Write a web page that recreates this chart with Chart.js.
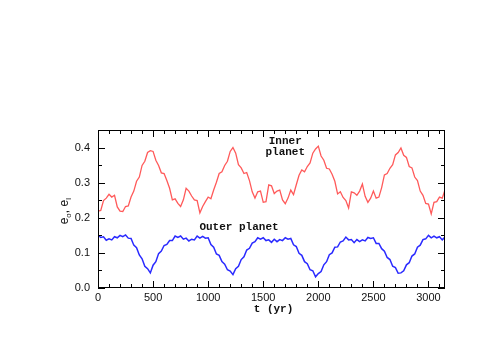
<!DOCTYPE html>
<html>
<head>
<meta charset="utf-8">
<script src="https://cdn.jsdelivr.net/npm/chart.js@4/dist/chart.umd.min.js"></script>
<style>
html,body{margin:0;padding:0;background:#fff;}
#wrap{width:491px;height:340px;position:relative;}
</style>
</head>
<body>
<div id="wrap"><canvas id="c" width="491" height="340"></canvas></div>
<script>
// time samples (yr)
const years = [0,25,50,75,100,125,150,175,200,225,
250,275,300,325,350,375,400,425,450,475,
500,525,550,575,600,625,650,675,700,725,
750,775,800,825,850,875,900,925,950,975,
1000,1025,1050,1075,1100,1125,1150,1175,1200,1225,
1250,1275,1300,1325,1350,1375,1400,1425,1450,1475,
1500,1525,1550,1575,1600,1625,1650,1675,1700,1725,
1750,1775,1800,1825,1850,1875,1900,1925,1950,1975,
2000,2025,2050,2075,2100,2125,2150,2175,2200,2225,
2250,2275,2300,2325,2350,2375,2400,2425,2450,2475,
2500,2525,2550,2575,2600,2625,2650,2675,2700,2725,
2750,2775,2800,2825,2850,2875,2900,2925,2950,2975,
3000,3025,3050,3075,3100,3125,3150];

// inner planet eccentricity e_I
const innerE = [0.219,0.221,0.249,0.256,0.267,0.259,0.264,0.231,0.219,0.218,
0.232,0.234,0.259,0.276,0.304,0.316,0.349,0.361,0.386,0.391,
0.389,0.364,0.349,0.328,0.326,0.306,0.284,0.251,0.254,0.241,
0.232,0.251,0.284,0.276,0.262,0.251,0.249,0.214,0.232,0.246,
0.259,0.254,0.279,0.301,0.326,0.331,0.349,0.361,0.389,0.400,
0.384,0.351,0.342,0.326,0.329,0.306,0.274,0.256,0.274,0.276,
0.244,0.246,0.294,0.291,0.269,0.276,0.279,0.251,0.240,0.256,
0.279,0.266,0.294,0.321,0.336,0.331,0.346,0.356,0.384,0.396,
0.404,0.376,0.364,0.341,0.339,0.324,0.304,0.268,0.274,0.258,
0.249,0.228,0.274,0.271,0.264,0.276,0.296,0.261,0.244,0.256,
0.276,0.256,0.259,0.286,0.322,0.326,0.341,0.351,0.379,0.386,
0.399,0.378,0.372,0.346,0.342,0.316,0.306,0.276,0.264,0.241,
0.239,0.211,0.244,0.246,0.259,0.256,0.279];

// outer planet eccentricity e_O
const outerE = [0.151,0.144,0.146,0.136,0.140,0.137,0.146,0.143,0.150,0.146,
0.151,0.142,0.141,0.122,0.115,0.094,0.083,0.062,0.055,0.043,
0.065,0.075,0.098,0.105,0.121,0.124,0.135,0.135,0.148,0.144,
0.148,0.139,0.142,0.134,0.139,0.137,0.148,0.142,0.147,0.142,
0.143,0.124,0.116,0.097,0.093,0.075,0.068,0.052,0.048,0.038,
0.055,0.062,0.081,0.089,0.108,0.113,0.128,0.132,0.143,0.139,
0.143,0.135,0.137,0.130,0.139,0.132,0.138,0.135,0.143,0.139,
0.141,0.123,0.118,0.099,0.093,0.075,0.069,0.052,0.049,0.032,
0.041,0.047,0.066,0.075,0.095,0.100,0.116,0.117,0.131,0.134,
0.145,0.137,0.138,0.129,0.138,0.132,0.137,0.134,0.144,0.141,
0.143,0.127,0.127,0.112,0.105,0.087,0.081,0.062,0.058,0.042,
0.043,0.049,0.066,0.072,0.091,0.097,0.116,0.122,0.138,0.140,
0.150,0.143,0.148,0.143,0.146,0.137,0.145];

const xTickValues = [0, 500, 1000, 1500, 2000, 2500, 3000];
const xLabels = ['0','500','1000','1500','2000','2500','3000'];
const yTickValues = [0, 0.1, 0.2, 0.3, 0.4];
const yLabels = ['0.0','0.1','0.2','0.3','0.4'];
const seriesNames = ['Inner planet','Outer planet'];

const toPts = (xs, ys) => xs.map((t, i) => ({x: t, y: ys[i]}));

const labelFont = '11px "Liberation Mono", "DejaVu Sans Mono", monospace';
const tickFont = '11px "Liberation Sans", Arial, sans-serif';

const decor = {
  id: 'decor',
  afterDraw(chart) {
    const {ctx, chartArea: a, scales: {x, y}} = chart;
    ctx.save();
    ctx.strokeStyle = '#000';
    ctx.lineWidth = 1;
    // frame
    ctx.strokeRect(Math.round(a.left) + 0.5, Math.round(a.top) + 0.5,
      Math.round(a.right - a.left) - 1, Math.round(a.bottom - a.top) - 1);
    ctx.beginPath();
    // x ticks
    for (let v = 0; v <= x.max; v += 100) {
      const px = Math.round(x.getPixelForValue(v)) + 0.5;
      const len = (v % 500 === 0) ? 7 : 4;
      ctx.moveTo(px, a.bottom); ctx.lineTo(px, a.bottom - len);
      ctx.moveTo(px, a.top); ctx.lineTo(px, a.top + len);
    }
    // y ticks
    for (let k = 0; k * 0.05 <= y.max + 1e-9; k++) {
      const v = k * 0.05;
      const py = Math.round(y.getPixelForValue(v)) + 0.5;
      const len = (k % 2 === 0) ? 7 : 4;
      ctx.moveTo(a.left, py); ctx.lineTo(a.left + len, py);
      ctx.moveTo(a.right, py); ctx.lineTo(a.right - len, py);
    }
    ctx.stroke();

    // tick labels
    ctx.fillStyle = '#111';
    ctx.font = tickFont;
    ctx.textAlign = 'center';
    ctx.textBaseline = 'middle';
    xTickValues.forEach((v, i) => {
      ctx.fillText(xLabels[i], x.getPixelForValue(v), a.bottom + 10);
    });
    ctx.textAlign = 'right';
    yTickValues.forEach((v, i) => {
      ctx.fillText(yLabels[i], a.left - 8, y.getPixelForValue(v));
    });

    // annotations
    ctx.font = 'bold ' + labelFont;
    ctx.textAlign = 'center';
    const inner = seriesNames[0].split(' ');
    ctx.fillText(inner[0], x.getPixelForValue(1700), y.getPixelForValue(0.419));
    ctx.fillText(inner[1], x.getPixelForValue(1700), y.getPixelForValue(0.387));
    ctx.fillText(seriesNames[1], x.getPixelForValue(1280), y.getPixelForValue(0.174));

    // x title
    ctx.fillText('t (yr)', (a.left + a.right) / 2 + 2, 309);

    // y title with subscripts, rotated
    ctx.translate(64, (a.top + a.bottom) / 2 + 2);
    ctx.rotate(-Math.PI / 2);
    ctx.textAlign = 'left';
    ctx.textBaseline = 'alphabetic';
    const big = '12px "Liberation Sans", Arial, sans-serif';
    const small = '8px "Liberation Sans", Arial, sans-serif';
    const parts = [['e', big, 0], ['o', small, 3], [', e', big, 0], ['I', small, 3]];
    let total = 0;
    for (const [s, f] of parts) { ctx.font = f; total += ctx.measureText(s).width; }
    let cx = -total / 2;
    for (const [s, f, dy] of parts) {
      ctx.font = f;
      ctx.fillText(s, cx, 4 + dy);
      cx += ctx.measureText(s).width;
    }
    ctx.restore();
  }
};

new Chart(document.getElementById('c'), {
  type: 'line',
  data: {
    datasets: [
      {label: seriesNames[0], data: toPts(years, innerE), borderColor: '#ff5a5a',
       borderWidth: 1.3, pointRadius: 0, tension: 0, fill: false},
      {label: seriesNames[1], data: toPts(years, outerE), borderColor: '#2a2aff',
       borderWidth: 1.5, pointRadius: 0, tension: 0, fill: false}
    ]
  },
  options: {
    responsive: false,
    animation: false,
    events: [],
    layout: {padding: {top: 130, right: 46, bottom: 0, left: 0}},
    plugins: {legend: {display: false}, tooltip: {enabled: false}},
    scales: {
      x: {
        type: 'linear', min: 0, max: 3150,
        grid: {display: false, drawTicks: false},
        border: {display: false},
        ticks: {display: false},
        afterFit: (s) => { s.height = 52; }
      },
      y: {
        type: 'linear', min: 0, max: 0.45,
        grid: {display: false, drawTicks: false},
        border: {display: false},
        ticks: {display: false},
        afterFit: (s) => { s.width = 98; }
      }
    }
  },
  plugins: [decor]
});
</script>
</body>
</html>
